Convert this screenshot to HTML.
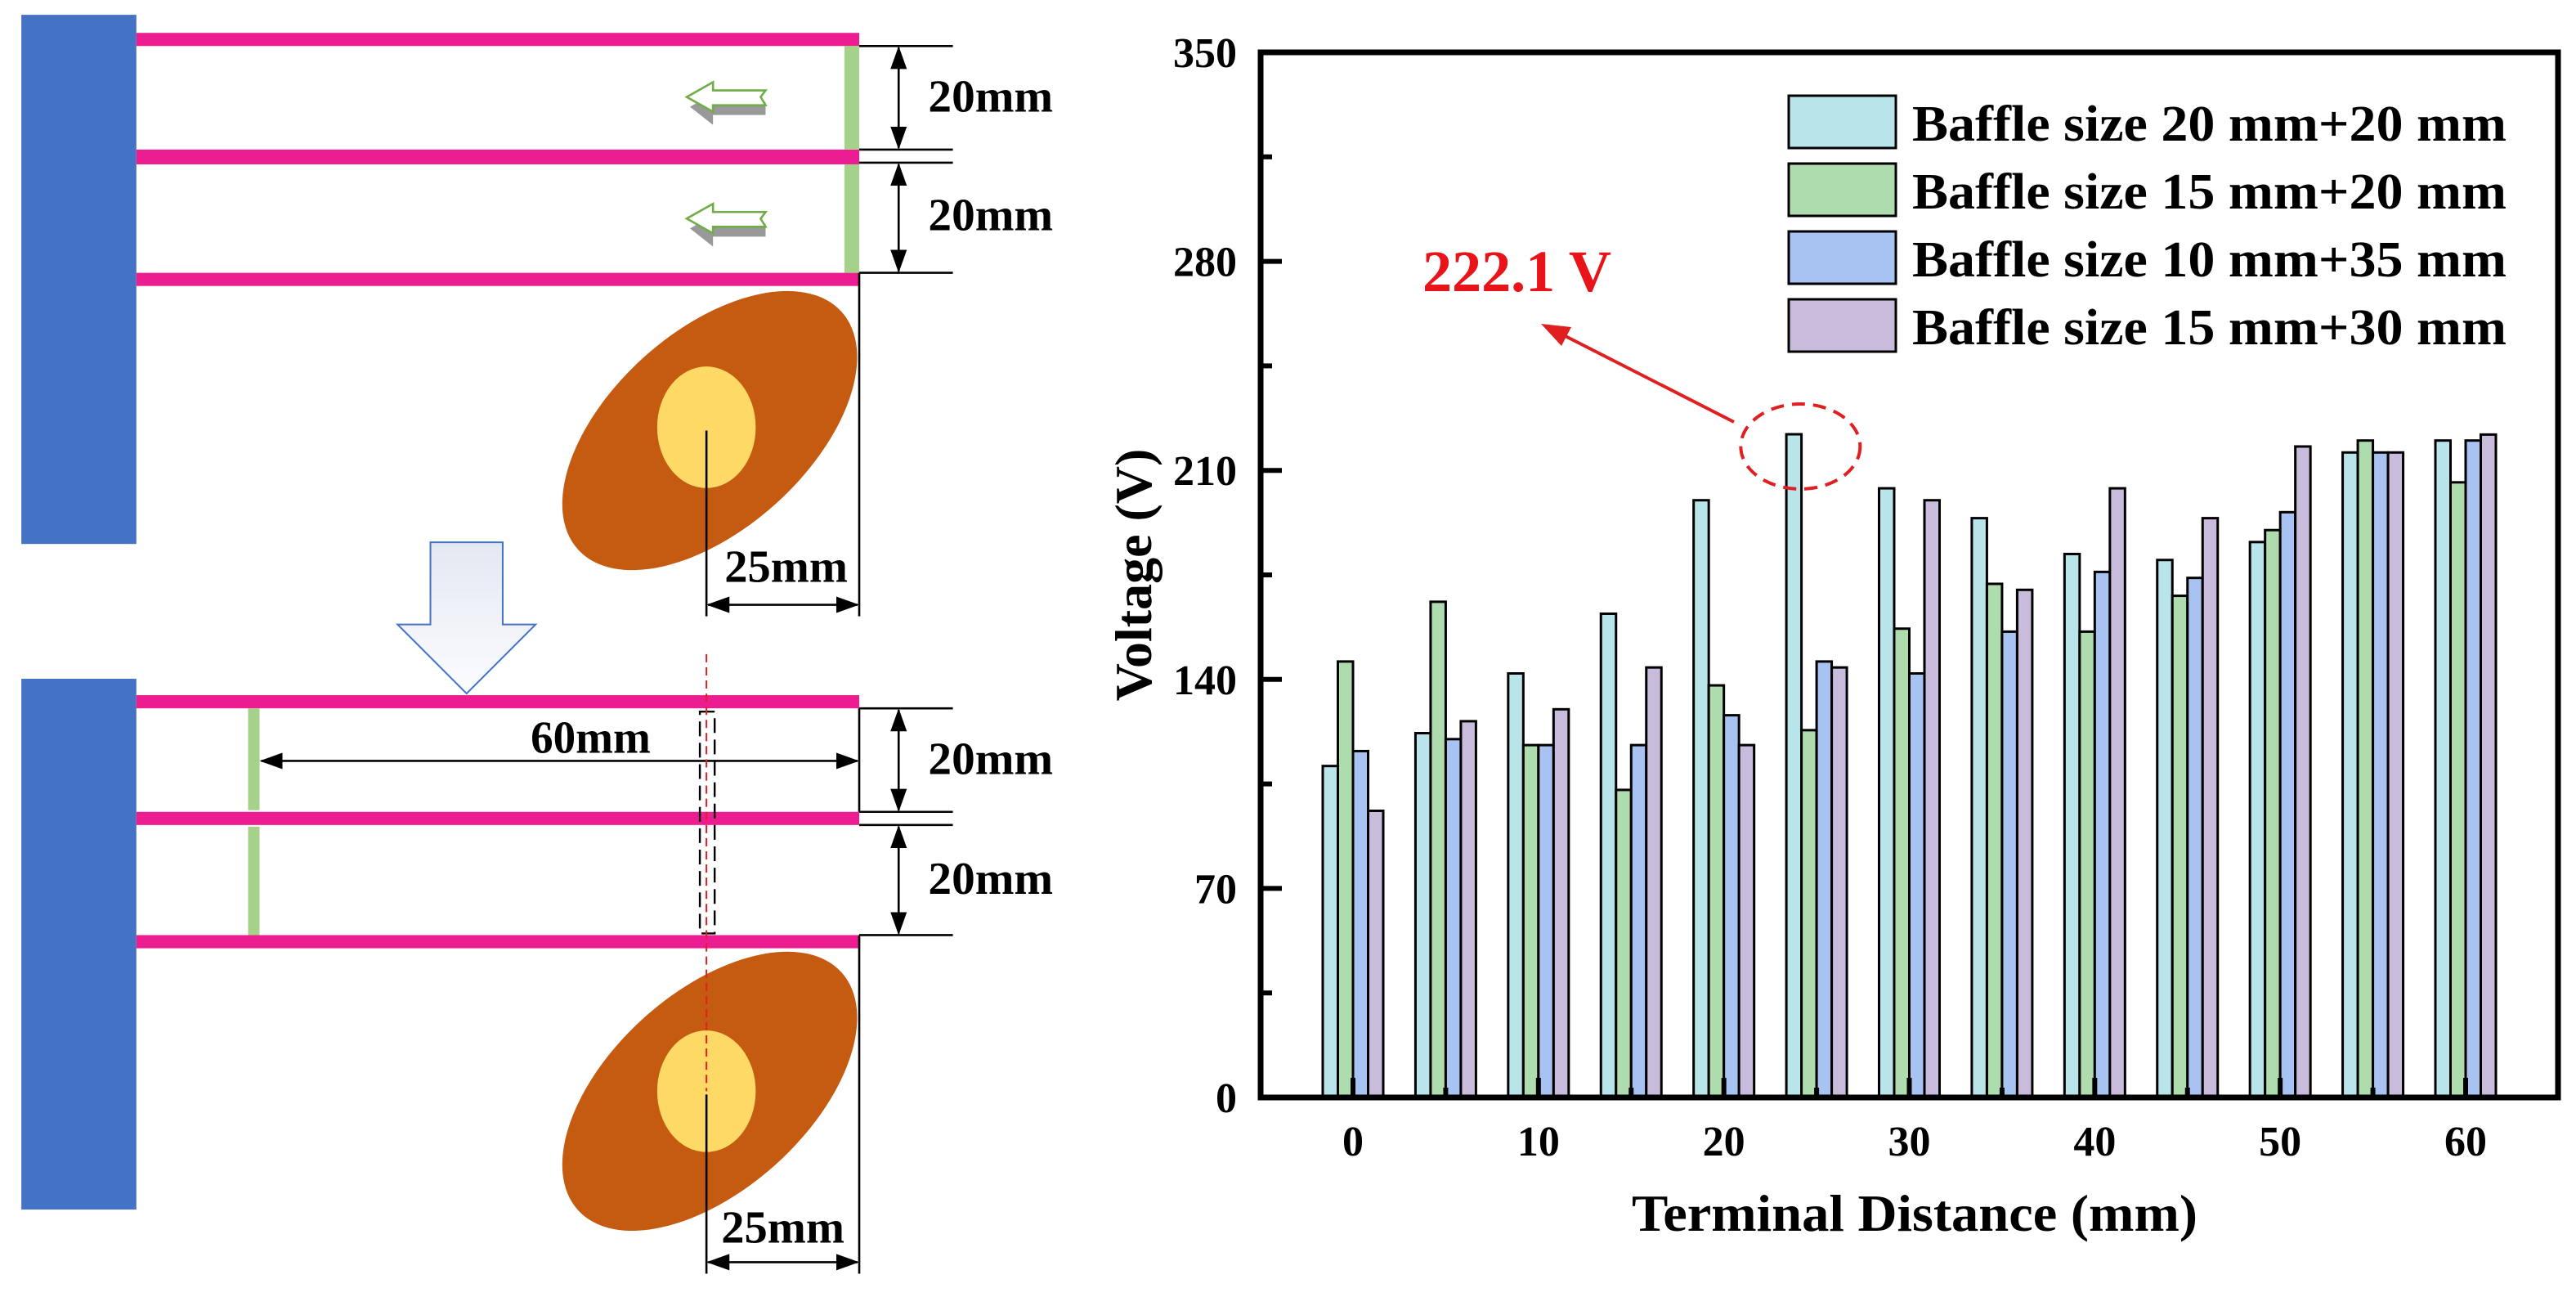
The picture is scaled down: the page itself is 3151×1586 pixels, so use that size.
<!DOCTYPE html>
<html><head><meta charset="utf-8">
<style>
html,body{margin:0;padding:0;background:#fff;}
body{width:3151px;height:1586px;position:relative;overflow:hidden;font-family:"Liberation Serif",serif;}
svg{position:absolute;left:0;top:0;}
</style></head>
<body>
<svg width="1340" height="1586" viewBox="0 0 666.8 789.2">
 <defs>
  <marker id="ah" markerWidth="14" markerHeight="10" refX="13" refY="5" orient="auto-start-reverse" markerUnits="userSpaceOnUse" viewBox="0 0 14 10"><path d="M0,0 L14,5 L0,10 Z" fill="#000"/></marker>
  <linearGradient id="sg" x1="0" y1="0" x2="0" y2="1"><stop offset="0" stop-color="#e4e8f2"/><stop offset="1" stop-color="#fbfcfe"/></linearGradient>
 </defs>
 <g>
  <rect x="13" y="9" width="70" height="322" fill="#4472c4"/>
  <rect x="83" y="20" width="440" height="8" fill="#ec1c91"/>
  <rect x="83" y="91" width="440" height="9" fill="#ec1c91"/>
  <rect x="83" y="166" width="440" height="8" fill="#ec1c91"/>
  <rect x="514" y="28" width="9" height="63" fill="#a6d18a"/>
  <rect x="514" y="100" width="9" height="66" fill="#a6d18a"/>
  <g stroke="#000" stroke-width="1.3" fill="none">
   <line x1="523" y1="28" x2="580" y2="28"/><line x1="523" y1="91" x2="580" y2="91"/>
   <line x1="523" y1="99" x2="580" y2="99"/><line x1="523" y1="166" x2="580" y2="166"/>
   <line x1="547" y1="29" x2="547" y2="90" marker-start="url(#ah)" marker-end="url(#ah)"/>
   <line x1="547" y1="100" x2="547" y2="165" marker-start="url(#ah)" marker-end="url(#ah)"/>
  </g>
  <text x="565" y="68" font-size="28" font-weight="bold" textLength="76" lengthAdjust="spacingAndGlyphs">20mm</text>
  <text x="565" y="140" font-size="28" font-weight="bold" textLength="76" lengthAdjust="spacingAndGlyphs">20mm</text>
  <g>
   <path d="M420,65 L434,57 L434,62 L466,62 L466,70 L434,70 L434,76 Z" fill="#999"/>
   <path d="M418,59 L434,50 L434,55 L466,55 L463,59 L466,64 L434,64 L434,68 Z" fill="#fff" stroke="#70ad47" stroke-width="1.3"/>
  </g>
  <g>
   <path d="M420,139 L434,131 L434,136 L466,136 L466,144 L434,144 L434,150 Z" fill="#999"/>
   <path d="M418,133 L434,124 L434,129 L466,129 L463,133 L466,138 L434,138 L434,142 Z" fill="#fff" stroke="#70ad47" stroke-width="1.3"/>
  </g>
  <ellipse cx="432" cy="262" rx="108" ry="60" transform="rotate(-42 432 262)" fill="#c55a11"/>
  <ellipse cx="430" cy="260" rx="30" ry="37" fill="#ffd966"/>
  <g stroke="#000" stroke-width="1.3" fill="none">
   <line x1="430" y1="262" x2="430" y2="375"/><line x1="523" y1="166" x2="523" y2="375"/>
   <line x1="431" y1="368" x2="522" y2="368" marker-start="url(#ah)" marker-end="url(#ah)"/>
  </g>
  <text x="441" y="354" font-size="28" font-weight="bold" textLength="75" lengthAdjust="spacingAndGlyphs">25mm</text>
 </g>
 <g>
  <path d="M262,330 L306,330 L306,380 L326,380 L284,422 L242,380 L262,380 Z" fill="url(#sg)" stroke="#4472c4" stroke-width="1"/>
 </g>
 <g>
  <rect x="13" y="413" width="70" height="323" fill="#4472c4"/>
  <rect x="83" y="423" width="440" height="8" fill="#ec1c91"/>
  <rect x="83" y="494" width="440" height="8" fill="#ec1c91"/>
  <rect x="83" y="569" width="440" height="8" fill="#ec1c91"/>
  <rect x="151" y="431" width="7" height="62" fill="#a6d18a"/>
  <rect x="151" y="503" width="7" height="66" fill="#a6d18a"/>
  <rect x="426" y="433" width="9" height="135" fill="none" stroke="#000" stroke-width="1.2" stroke-dasharray="9,4"/>
  <g stroke="#000" stroke-width="1.3" fill="none">
   <line x1="159" y1="463" x2="522" y2="463" marker-start="url(#ah)" marker-end="url(#ah)"/>
   <line x1="523" y1="431" x2="580" y2="431"/><line x1="523" y1="494" x2="580" y2="494"/>
   <line x1="523" y1="502" x2="580" y2="502"/><line x1="523" y1="569" x2="580" y2="569"/>
   <line x1="523" y1="431" x2="523" y2="494"/>
   <line x1="547" y1="432" x2="547" y2="493" marker-start="url(#ah)" marker-end="url(#ah)"/>
   <line x1="547" y1="503" x2="547" y2="568" marker-start="url(#ah)" marker-end="url(#ah)"/>
  </g>
  <text x="323" y="458" font-size="28" font-weight="bold" textLength="73" lengthAdjust="spacingAndGlyphs">60mm</text>
  <text x="565" y="471" font-size="28" font-weight="bold" textLength="76" lengthAdjust="spacingAndGlyphs">20mm</text>
  <text x="565" y="544" font-size="28" font-weight="bold" textLength="76" lengthAdjust="spacingAndGlyphs">20mm</text>
  <ellipse cx="432" cy="664" rx="108" ry="60" transform="rotate(-42 432 664)" fill="#c55a11"/>
  <ellipse cx="430" cy="664" rx="30" ry="37" fill="#ffd966"/>
  <line x1="430" y1="398" x2="430" y2="664" stroke="#e02020" stroke-width="1" stroke-dasharray="5,3"/>
  <g stroke="#000" stroke-width="1.3" fill="none">
   <line x1="430" y1="666" x2="430" y2="775"/><line x1="523" y1="569" x2="523" y2="775"/>
   <line x1="431" y1="768" x2="522" y2="768" marker-start="url(#ah)" marker-end="url(#ah)"/>
  </g>
  <text x="439" y="756" font-size="28" font-weight="bold" textLength="75" lengthAdjust="spacingAndGlyphs">25mm</text>
 </g>
</svg>

<svg id="chart" width="3151" height="1586" viewBox="0 0 3151 1586" style="pointer-events:none"></svg>

<script>
const categories = [0,5,10,15,20,25,30,35,40,45,50,55,60];
const series20x20 = [111,122,142,162,200,222.1,204,194,182,180,186,216,220];
const series15x20 = [146,166,118,103,138,123,157,172,156,168,190,220,206];
const series10x35 = [116,120,118,118,128,146,142,156,176,174,196,216,220];
const series15x30 = [96,126,130,144,118,144,200,170,204,194,218,216,222];
const seriesNames = ["Baffle size 20 mm+20 mm","Baffle size 15 mm+20 mm","Baffle size 10 mm+35 mm","Baffle size 15 mm+30 mm"];
const yTicks = [0,70,140,210,280,350];
const xTickLabels = [0,10,20,30,40,50,60];
const annotationText = "222.1 V";

const NS = "http://www.w3.org/2000/svg";
const svg = document.getElementById("chart");
const L = 1542, R = 3129, T = 64, B = 1342;
const yMin = 0, yMax = 350;
const x0px = 1655, x60px = 3016;
function xScale(v){ return x0px + (v - 0) * (x60px - x0px) / 60; }
function yScale(v){ return B - (v - yMin) * (B - T) / (yMax - yMin); }
function mk(tag, attrs, parent){
  const e = document.createElementNS(NS, tag);
  for (const k in attrs) e.setAttribute(k, attrs[k]);
  (parent || svg).appendChild(e);
  return e;
}
const colors = ["#b9e4ea","#afdcaf","#a8c3f2","#c8bbdb"];
const allSeries = [series20x20, series15x20, series10x35, series15x30];
const barW = 18.5;

allSeries.forEach((s, si) => {
  s.forEach((v, ci) => {
    const cx = xScale(categories[ci]);
    const x = cx - 2 * barW + si * barW;
    const r = mk("rect", {x: x, y: yScale(v), width: barW, height: yScale(0) - yScale(v), fill: colors[si], stroke: "#000", "stroke-width": 3});
    
    
  });
});

const frame = mk("rect", {x: L, y: T, width: R - L, height: B - T, fill: "none", stroke: "#000", "stroke-width": 7});



yTicks.forEach((v) => {
  const y = yScale(v);
  const t = mk("line", {x1: L, x2: L + 26, y1: y, y2: y, stroke: "#000", "stroke-width": 6});
  
  
  const lb = mk("text", {x: 1513, y: y + 18, "text-anchor": "end", "font-size": 52, "font-weight": "bold", "font-family": "Liberation Serif, serif"});
  lb.textContent = v;
  
  
});
for (let i = 0; i < yTicks.length - 1; i++) {
  const y = yScale((yTicks[i] + yTicks[i + 1]) / 2);
  const t = mk("line", {x1: L, x2: L + 14, y1: y, y2: y, stroke: "#000", "stroke-width": 6});
  
  
}
categories.forEach((c) => {
  const x = xScale(c);
  const major = xTickLabels.indexOf(c) >= 0;
  const t = mk("line", {x1: x, x2: x, y1: B, y2: B - (major ? 24 : 12), stroke: "#000", "stroke-width": 6});
  
  
});
xTickLabels.forEach((c) => {
  const lb = mk("text", {x: xScale(c), y: 1413, "text-anchor": "middle", "font-size": 52, "font-weight": "bold", "font-family": "Liberation Serif, serif"});
  lb.textContent = c;
  
  
});

const xt = mk("text", {x: 2342, y: 1505, "text-anchor": "middle", "font-size": 64, "font-weight": "bold", "font-family": "Liberation Serif, serif", textLength: 692, lengthAdjust: "spacingAndGlyphs"});
xt.textContent = "Terminal Distance (mm)";


const yt = mk("text", {x: 0, y: 0, "text-anchor": "middle", "font-size": 64, "font-weight": "bold", "font-family": "Liberation Serif, serif", transform: "translate(1408 703) rotate(-90)"});
yt.textContent = "Voltage (V)";



const legTops = [117, 200, 283, 366];
seriesNames.forEach((n, i) => {
  const b = mk("rect", {x: 2188, y: legTops[i], width: 131, height: 64, fill: colors[i], stroke: "#000", "stroke-width": 3});
  
  
  const t = mk("text", {x: 2339, y: legTops[i] + 55, "font-size": 62, "font-weight": "bold", "font-family": "Liberation Serif, serif", textLength: 727, lengthAdjust: "spacingAndGlyphs"});
  t.textContent = n;
  
  
});

const peakX = xScale(categories[5]) - 1.5 * barW;
const peakY = yScale(series20x20[5]);
const ell = mk("ellipse", {cx: peakX + 8, cy: peakY + 15, rx: 73, ry: 52, fill: "none", stroke: "#e02020", "stroke-width": 4, "stroke-dasharray": "16,10"});


const ar = mk("line", {x1: 2121, y1: 516, x2: 1905, y2: 406, stroke: "#e02020", "stroke-width": 4});


const ah = mk("path", {d: "M1885,396 L1922,400 L1910,423 Z", fill: "#e02020"});


const at = mk("text", {x: 1740, y: 356, "font-size": 72, "font-weight": "bold", fill: "#e8141a", "font-family": "Liberation Serif, serif", textLength: 231, lengthAdjust: "spacingAndGlyphs"});
at.textContent = annotationText;


</script>
</body></html>
